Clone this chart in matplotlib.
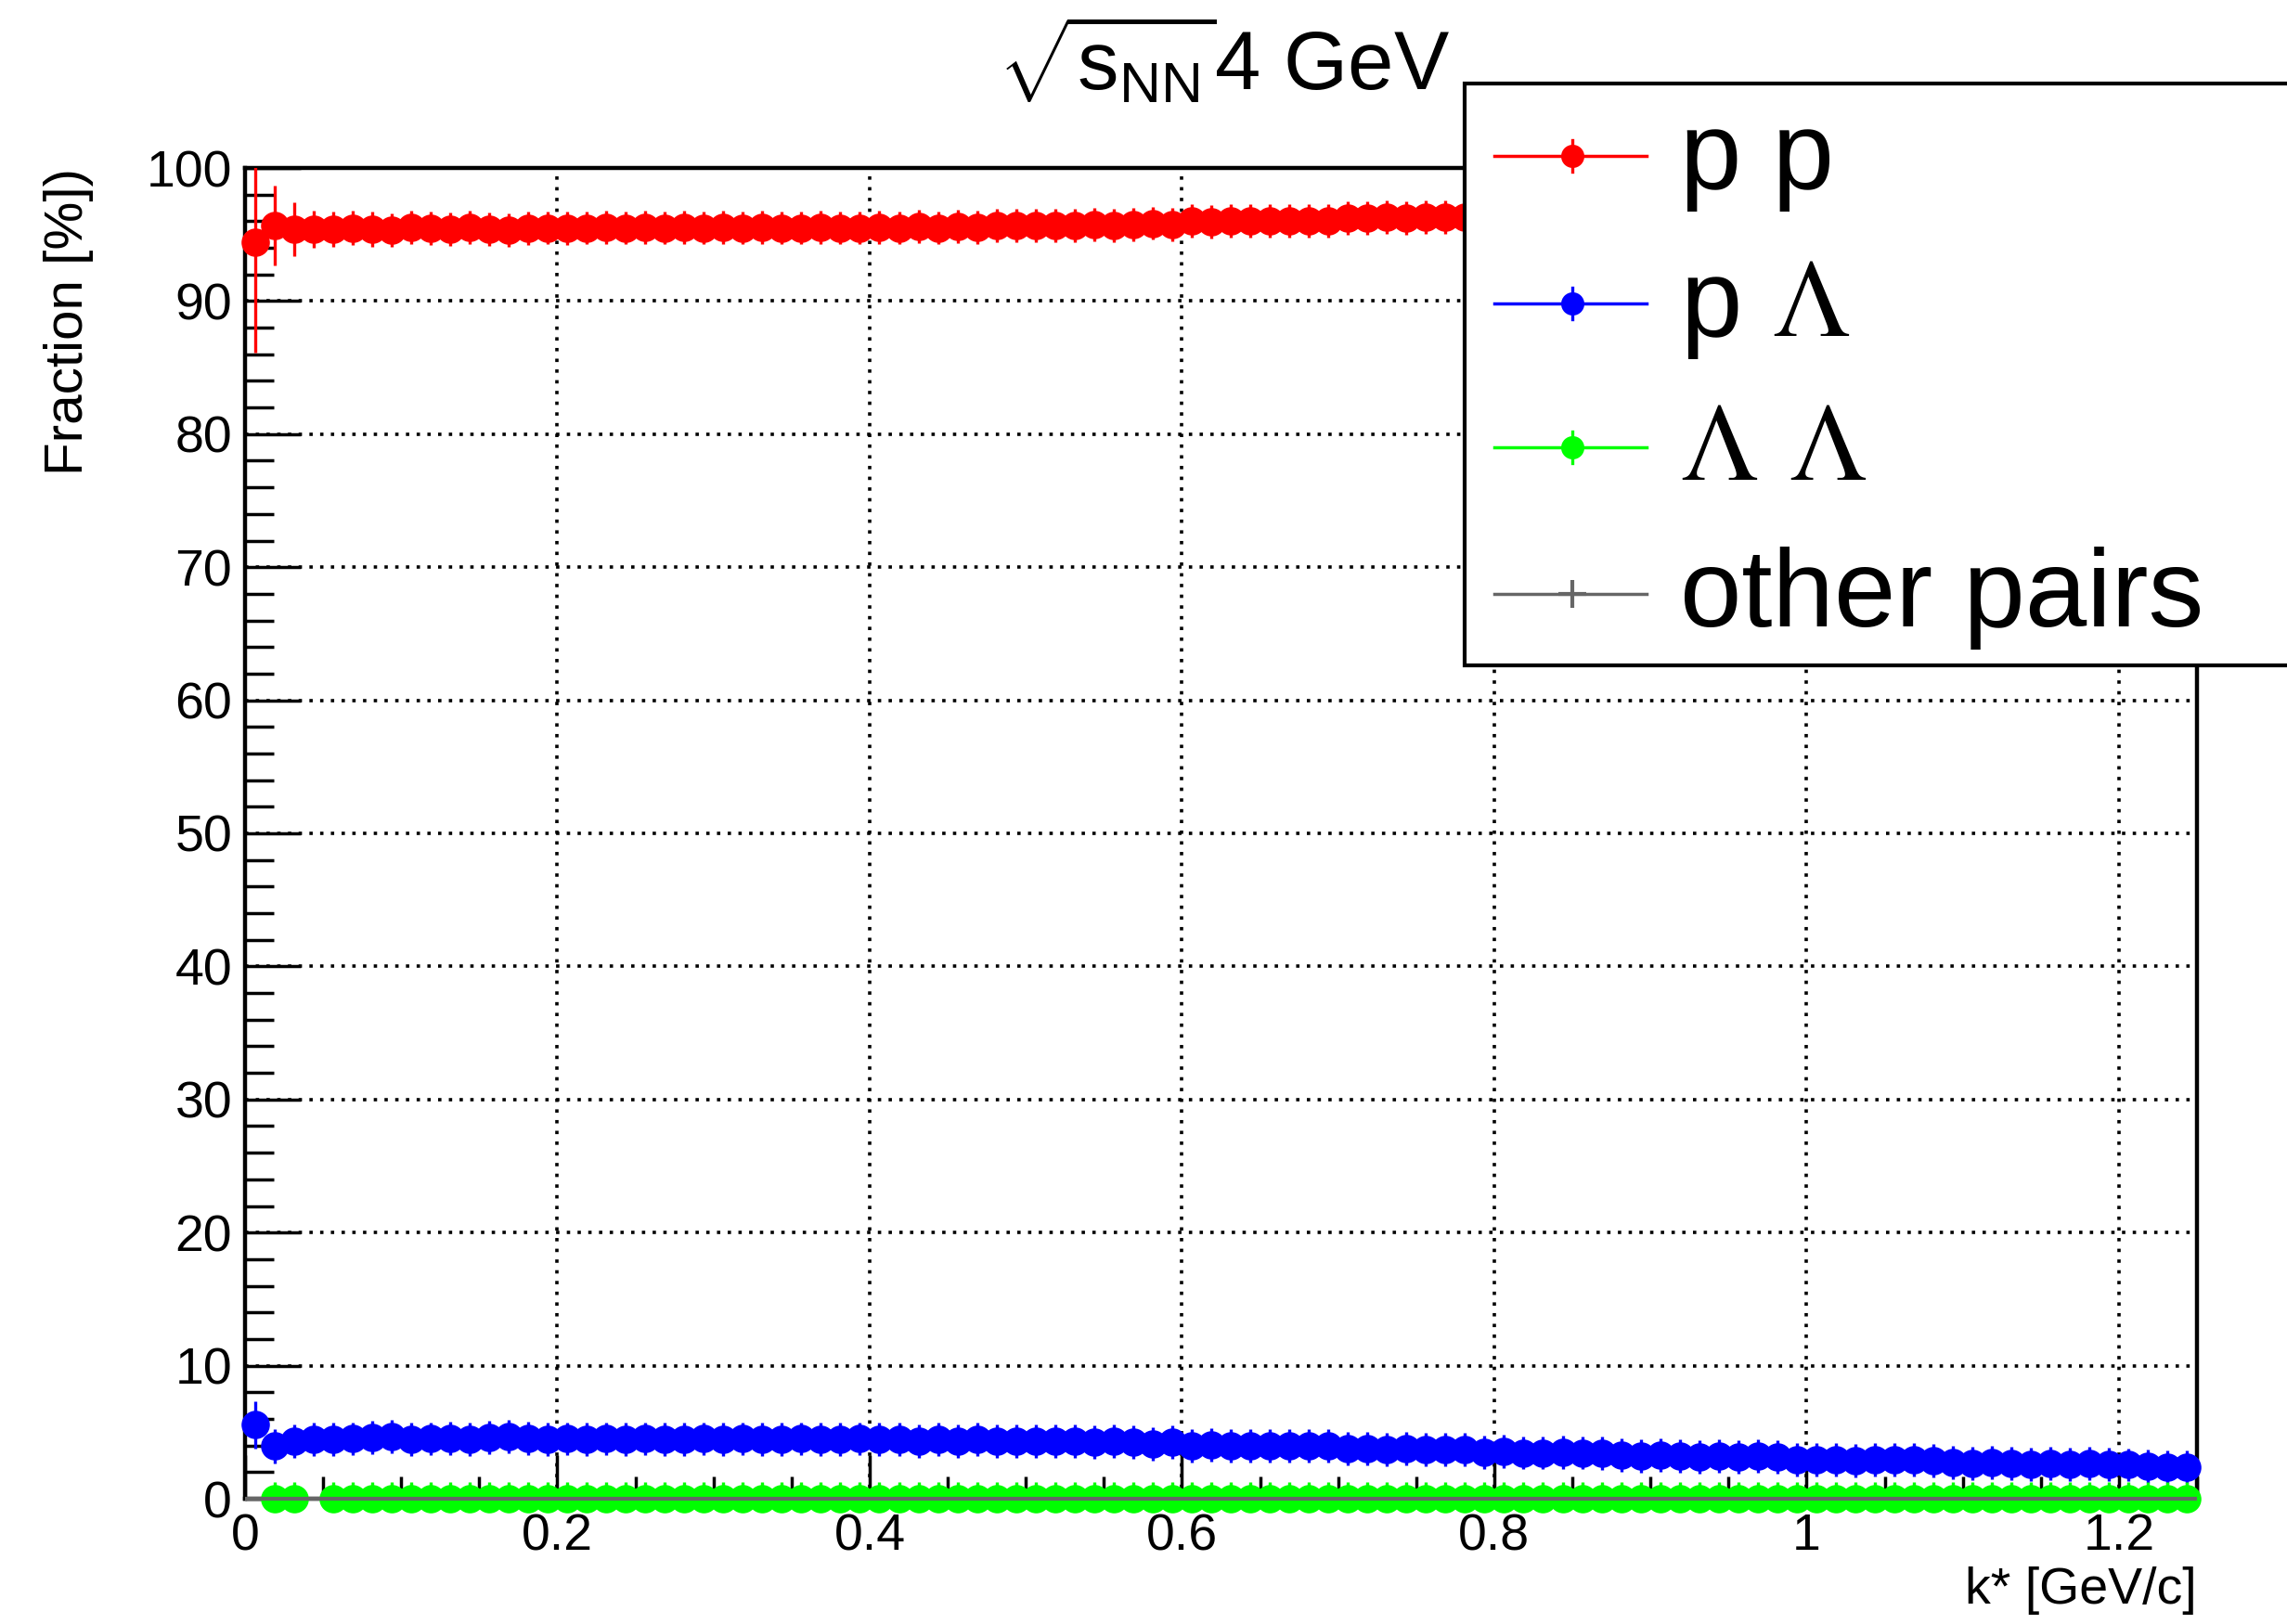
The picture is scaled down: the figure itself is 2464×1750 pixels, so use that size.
import numpy as np
import matplotlib
matplotlib.use('Agg')
import matplotlib.pyplot as plt
from matplotlib.lines import Line2D
from matplotlib.patches import Rectangle
from matplotlib.ticker import MultipleLocator, FixedLocator, FixedFormatter

plt.rcParams['font.family'] = ['Liberation Sans', 'DejaVu Sans']
plt.rcParams['mathtext.fontset'] = 'custom'
plt.rcParams['mathtext.rm'] = 'Liberation Sans'
plt.rcParams['mathtext.it'] = 'Liberation Sans'
plt.rcParams['mathtext.bf'] = 'Liberation Sans:bold'

# k* binning: 100 bins from 0 to 1.25 GeV/c
bin_edges = np.linspace(0, 1.25, 101)
kstar = 0.5 * (bin_edges[1:] + bin_edges[:-1])
half_bin = 0.5 * np.diff(bin_edges)

# fraction of pairs [%]
frac_pp = [94.40, 95.70, 95.40, 95.40, 95.40, 95.50, 95.40, 95.35, 95.55, 95.45,
           95.40, 95.55, 95.40, 95.35, 95.45, 95.50, 95.45, 95.50, 95.55, 95.50,
           95.55, 95.50, 95.55, 95.50, 95.55, 95.50, 95.55, 95.50, 95.50, 95.55,
           95.50, 95.50, 95.55, 95.50, 95.60, 95.50, 95.60, 95.55, 95.70, 95.70,
           95.65, 95.70, 95.70, 95.75, 95.70, 95.75, 95.85, 95.75, 96.00, 95.95,
           96.00, 96.00, 96.05, 96.00, 96.05, 96.05, 96.25, 96.25, 96.30, 96.25,
           96.30, 96.30, 96.30, 96.45, 96.40, 96.50, 96.50, 96.45, 96.50, 96.55,
           96.70, 96.75, 96.70, 96.75, 96.80, 96.75, 96.80, 96.75, 96.80, 97.00,
           97.00, 97.05, 97.10, 97.05, 97.00, 97.05, 97.10, 97.25, 97.30, 97.25,
           97.30, 97.35, 97.30, 97.35, 97.30, 97.35, 97.40, 97.50, 97.60, 97.55]
err_pp = [8.30, 3.00, 2.00, 1.40, 1.30, 1.30, 1.30, 1.25, 1.25, 1.25,
          1.25, 1.25, 1.25, 1.25, 1.25, 1.25, 1.25, 1.25, 1.25, 1.25,
          1.25, 1.25, 1.25, 1.25, 1.25, 1.25, 1.25, 1.25, 1.25, 1.25,
          1.25, 1.25, 1.25, 1.25, 1.25, 1.25, 1.25, 1.25, 1.25, 1.25,
          1.25, 1.25, 1.25, 1.25, 1.25, 1.25, 1.25, 1.25, 1.25, 1.25,
          1.25, 1.25, 1.25, 1.25, 1.25, 1.25, 1.25, 1.25, 1.25, 1.25,
          1.25, 1.25, 1.25, 1.25, 1.25, 1.25, 1.25, 1.25, 1.25, 1.25,
          1.25, 1.25, 1.25, 1.25, 1.25, 1.25, 1.25, 1.25, 1.25, 1.25,
          1.25, 1.25, 1.25, 1.25, 1.25, 1.25, 1.25, 1.25, 1.25, 1.25,
          1.25, 1.25, 1.25, 1.25, 1.25, 1.25, 1.25, 1.25, 1.25, 1.25]

frac_pL = [5.55, 3.95, 4.35, 4.45, 4.45, 4.50, 4.60, 4.65, 4.45, 4.50,
           4.55, 4.45, 4.60, 4.65, 4.55, 4.45, 4.50, 4.45, 4.50, 4.45,
           4.50, 4.45, 4.45, 4.50, 4.45, 4.50, 4.45, 4.45, 4.50, 4.45,
           4.45, 4.50, 4.45, 4.45, 4.35, 4.45, 4.35, 4.45, 4.30, 4.30,
           4.35, 4.30, 4.30, 4.25, 4.30, 4.25, 4.10, 4.25, 4.00, 4.05,
           4.00, 4.00, 3.95, 4.00, 3.95, 3.95, 3.75, 3.75, 3.70, 3.75,
           3.70, 3.70, 3.70, 3.50, 3.55, 3.45, 3.45, 3.50, 3.45, 3.40,
           3.25, 3.20, 3.25, 3.20, 3.15, 3.20, 3.15, 3.20, 3.15, 2.95,
           2.95, 2.90, 2.85, 2.90, 2.95, 2.90, 2.85, 2.70, 2.65, 2.70,
           2.65, 2.60, 2.65, 2.60, 2.65, 2.60, 2.55, 2.45, 2.35, 2.40]
err_pL = [1.75, 1.30, 1.25, 1.25, 1.25, 1.25, 1.25, 1.25, 1.25, 1.25,
          1.25, 1.25, 1.25, 1.25, 1.25, 1.25, 1.25, 1.25, 1.25, 1.25,
          1.25, 1.25, 1.25, 1.25, 1.25, 1.25, 1.25, 1.25, 1.25, 1.25,
          1.25, 1.25, 1.25, 1.25, 1.25, 1.25, 1.25, 1.25, 1.25, 1.25,
          1.25, 1.25, 1.25, 1.25, 1.25, 1.25, 1.25, 1.25, 1.25, 1.25,
          1.25, 1.25, 1.25, 1.25, 1.25, 1.25, 1.25, 1.25, 1.25, 1.25,
          1.25, 1.25, 1.25, 1.25, 1.25, 1.25, 1.25, 1.25, 1.25, 1.25,
          1.25, 1.25, 1.25, 1.25, 1.25, 1.25, 1.25, 1.25, 1.25, 1.25,
          1.25, 1.25, 1.25, 1.25, 1.25, 1.25, 1.25, 1.25, 1.25, 1.25,
          1.25, 1.25, 1.25, 1.25, 1.25, 1.25, 1.25, 1.25, 1.25, 1.25]

nan = np.nan
frac_LL = [nan, 0, 0, nan, 0, 0, 0, 0, 0, 0,
           0, 0, 0, 0, 0, 0, 0, 0, 0, 0,
           0, 0, 0, 0, 0, 0, 0, 0, 0, 0,
           0, 0, 0, 0, 0, 0, 0, 0, 0, 0,
           0, 0, 0, 0, 0, 0, 0, 0, 0, 0,
           0, 0, 0, 0, 0, 0, 0, 0, 0, 0,
           0, 0, 0, 0, 0, 0, 0, 0, 0, 0,
           0, 0, 0, 0, 0, 0, 0, 0, 0, 0,
           0, 0, 0, 0, 0, 0, 0, 0, 0, 0,
           0, 0, 0, 0, 0, 0, 0, 0, 0, 0]
err_LL = 1.25

frac_other = [0, 0, 0, 0, 0, 0, 0, 0, 0, 0,
              0, 0, 0, 0, 0, 0, 0, 0, 0, 0,
              0, 0, 0, 0, 0, 0, 0, 0, 0, 0,
              0, 0, 0, 0, 0, 0, 0, 0, 0, 0,
              0, 0, 0, 0, 0, 0, 0, 0, 0, 0,
              0, 0, 0, 0, 0, 0, 0, 0, 0, 0,
              0, 0, 0, 0, 0, 0, 0, 0, 0, 0,
              0, 0, 0, 0, 0, 0, 0, 0, 0, 0,
              0, 0, 0, 0, 0, 0, 0, 0, 0, 0,
              0, 0, 0, 0, 0, 0, 0, 0, 0, 0]

xtick_vals = [0, 0.2, 0.4, 0.6, 0.8, 1.0, 1.2]
xtick_labels = ['0', '0.2', '0.4', '0.6', '0.8', '1', '1.2']
ytick_vals = [0, 10, 20, 30, 40, 50, 60, 70, 80, 90, 100]

col_pp = '#ff0000'
col_pL = '#0000ff'
col_LL = '#00ff00'
col_other = '#666666'

W, H = 2464, 1750
fig = plt.figure(figsize=(W / 100, H / 100), dpi=100)
ax = fig.add_axes([264 / W, 1 - 1615 / H, (2367 - 264) / W, (1615 - 181) / H])

ms = 22
elw = 2.4
for y, e, c in [(frac_pp, err_pp, col_pp), (frac_pL, err_pL, col_pL), (frac_LL, err_LL, col_LL)]:
    ax.errorbar(kstar, y, yerr=e, xerr=half_bin, fmt='none', ecolor=c, elinewidth=elw,
                capsize=0, zorder=3)
    ax.plot(kstar, y, 'o', color=c, ms=ms, mew=0, clip_on=False, zorder=3.5)
ax.errorbar(kstar, frac_other, xerr=half_bin, fmt='none', ecolor=col_other,
            elinewidth=3.0, capsize=0, clip_on=False, zorder=4)

ax.set_xlim(0, 1.25)
ax.set_ylim(0, 100)
ax.xaxis.set_major_locator(FixedLocator(xtick_vals))
ax.xaxis.set_major_formatter(FixedFormatter(xtick_labels))
ax.xaxis.set_minor_locator(MultipleLocator(0.05))
ax.yaxis.set_major_locator(FixedLocator(ytick_vals))
ax.yaxis.set_minor_locator(MultipleLocator(2))
ax.tick_params(axis='x', which='major', direction='in', length=34, width=2.5, pad=11, labelsize=40)
ax.tick_params(axis='x', which='minor', direction='in', length=17, width=2.5)
ax.tick_params(axis='y', which='major', direction='in', length=43, width=2.5, pad=10, labelsize=40)
ax.tick_params(axis='y', which='minor', direction='in', length=22, width=2.5)
ax.grid(True, which='major', color='black', linestyle=(0, (1, 2.2)), linewidth=2.6)
ax.set_axisbelow(True)
for s in ax.spines.values():
    s.set_linewidth(3.2)

fig.text(0.535, 1 - 97 / H, r'$\sqrt{s_{NN}}$4 GeV', ha='center', va='baseline', fontsize=64)
fig.text(74 / W, 1 - 181 / H, 'Fraction [%])', rotation=90, ha='center', va='top', fontsize=42)
fig.text(2367 / W, 1 - 1728 / H, 'k* [GeV/c]', ha='right', va='baseline', fontsize=40)

# legend box (runs off the right edge like the original)
fig.add_artist(Rectangle((1578 / W, 1 - 717 / H), (2520 - 1578) / W, (717 - 90) / H,
                         transform=fig.transFigure, facecolor='white', edgecolor='black',
                         linewidth=3.0, zorder=10, clip_on=False))
entries = [('p p', col_pp, 'o', 168), (r'p $\Lambda$', col_pL, 'o', 327),
           (r'$\Lambda$ $\Lambda$', col_LL, 'o', 482), ('other pairs', col_other, '+', 640)]
for label, c, m, ypx in entries:
    yf = 1 - ypx / H
    fig.add_artist(Line2D([1610 / W, 1774 / W], [yf, yf], transform=fig.transFigure,
                          color=c, lw=2.5, zorder=11))
    if m == 'o':
        fig.add_artist(Line2D([1694 / W, 1694 / W], [yf - 17 / H, yf + 17 / H],
                              transform=fig.transFigure, color=c, lw=2.4, zorder=11))
        fig.add_artist(Line2D([1694 / W], [yf], transform=fig.transFigure, color=c,
                              marker='o', ms=18, mew=0, zorder=11))
    else:
        fig.add_artist(Line2D([1694 / W], [yf], transform=fig.transFigure, color=c,
                              marker='+', ms=22, mew=3, zorder=11))
    fig.text(1810 / W, 1 - (ypx + 35) / H, label, ha='left', va='baseline', fontsize=86,
             math_fontfamily='stix', zorder=12)

fig.savefig('out.png', dpi=100)
